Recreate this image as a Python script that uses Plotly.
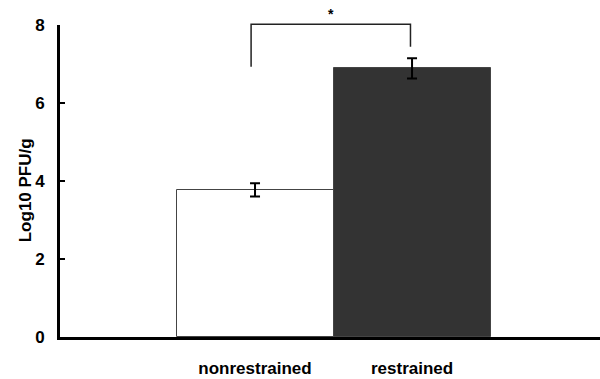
import plotly.graph_objects as go

# Data
categories = ["nonrestrained", "restrained"]
values = [3.77, 6.89]
errors = [0.17, 0.26]
bar_colors = ["#ffffff", "#333333"]
y_ticks = [0, 2, 4, 6, 8]
y_title = "Log10 PFU/g"
sig_label = "*"
# significance bracket (data units)
bracket_top = 8.02
bracket_left_bottom = 6.93
bracket_right_bottom = 7.44

xpos = [1, 2]
XR = [-0.242, 3.197]
YR = [0, 8]
FONT = "Liberation Sans, Arial, sans-serif"


def px(x):
    return (x - XR[0]) / (XR[1] - XR[0])


def py(y):
    return (y - YR[0]) / (YR[1] - YR[0])


fig = go.Figure()
fig.add_trace(go.Bar(
    x=xpos, y=values, width=1.0,
    marker=dict(color=bar_colors, line=dict(color="#444444", width=1)),
    error_y=dict(type="data", array=errors, visible=True,
                 color="black", thickness=2, width=5),
    showlegend=False,
))

# bracket (paper coords so it is not clipped)
bl = px(xpos[0] - 0.025)
br = px(xpos[1] - 0.01)
fig.add_shape(type="path",
              path=f"M {bl},{py(bracket_left_bottom)} L {bl},{py(bracket_top)} "
                   f"L {br},{py(bracket_top)} L {br},{py(bracket_right_bottom)}",
              xref="paper", yref="paper", line=dict(color="#222222", width=1.5))
fig.add_annotation(xref="paper", yref="paper", x=(bl + br) / 2, y=py(bracket_top),
                   yshift=0, text=sig_label,
                   showarrow=False, xanchor="center", yanchor="bottom",
                   font=dict(family=FONT, size=14, color="black", weight="bold"))

fig.add_annotation(xref="paper", yref="paper", x=-0.065, y=0.47,
                   text=y_title, textangle=-90, showarrow=False,
                   xanchor="center", yanchor="middle",
                   font=dict(family=FONT, size=17, color="black", weight="bold"))

fig.update_layout(
    width=600, height=379,
    margin=dict(l=60, r=0, t=25, b=42, autoexpand=False),
    paper_bgcolor="white", plot_bgcolor="white",
    bargap=0,
    xaxis=dict(range=XR, tickvals=xpos, ticktext=categories, automargin=False,
               showgrid=False, zeroline=False, showline=True,
               linecolor="black", linewidth=3, ticks="",
               ticklabelstandoff=14,
               tickfont=dict(family=FONT, size=17, color="black", weight="bold")),
    yaxis=dict(range=YR, tickvals=y_ticks, showgrid=False, zeroline=False,
               automargin=False,
               showline=True, linecolor="black", linewidth=3,
               ticks="inside", ticklen=5, tickwidth=2, tickcolor="black",
               ticklabelstandoff=9,
               tickfont=dict(family=FONT, size=17, color="black", weight="bold")),
)

fig.write_html("out.html")
